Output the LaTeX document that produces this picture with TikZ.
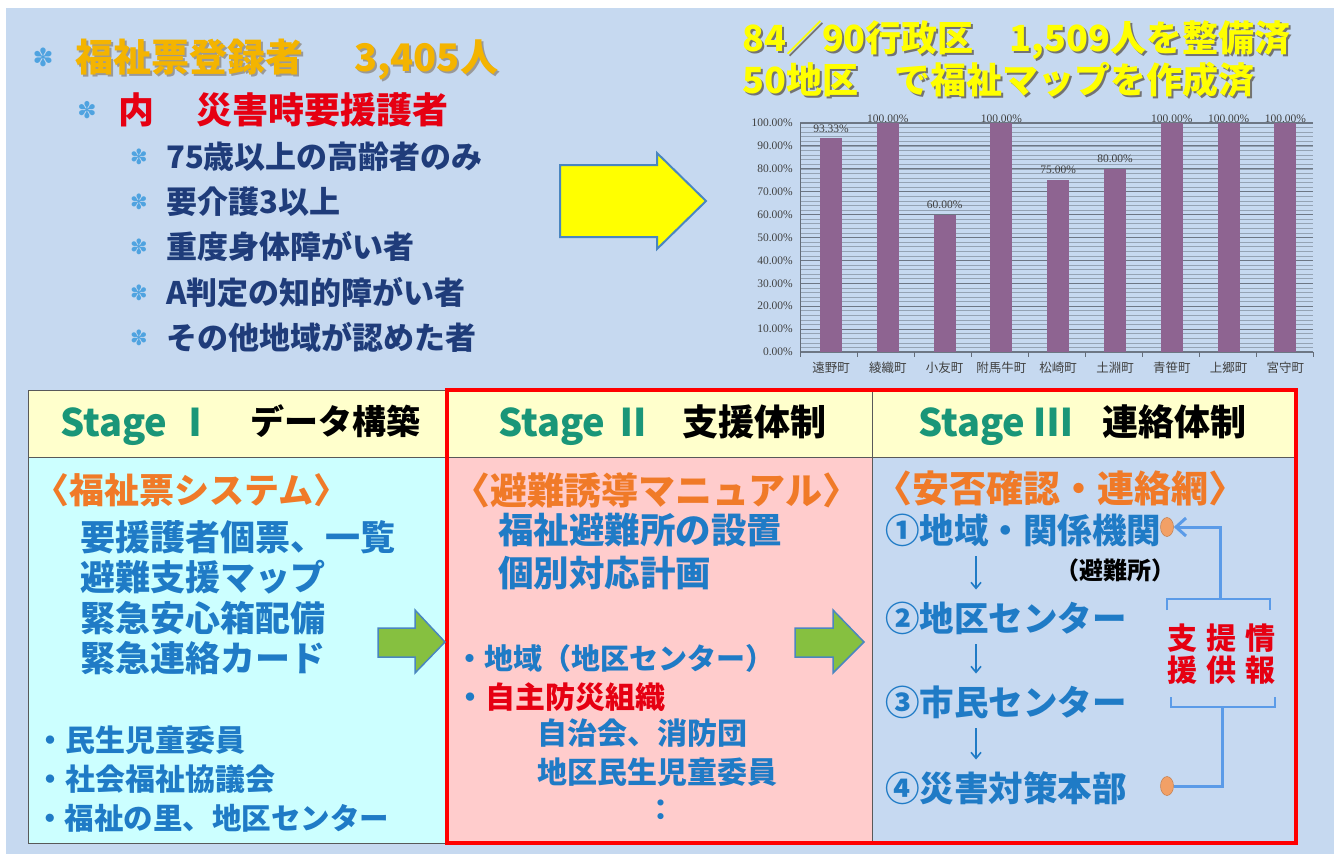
\documentclass[tikz,border=0pt]{standalone}
\usepackage{fontspec}
\usetikzlibrary{arrows.meta,shapes.geometric,calc}
\newfontfamily\jp{Noto Sans CJK JP}
\newfontfamily\symf{DejaVu Sans}
\newfontfamily\chartnum{Liberation Serif}
\definecolor{bg}{HTML}{C6D9F0}
\definecolor{gold}{HTML}{F4B400}
\definecolor{navy}{HTML}{1F3C7A}
\definecolor{jred}{HTML}{E60012}
\definecolor{jyellow}{HTML}{FFFF00}
\definecolor{bulblue}{HTML}{4FA3E0}
\definecolor{teal}{HTML}{1A9678}
\definecolor{jorange}{HTML}{F07A28}
\definecolor{jblue}{HTML}{1F7BC6}
\definecolor{hdr}{HTML}{FFFFCC}
\definecolor{cone}{HTML}{CCFFFF}
\definecolor{ctwo}{HTML}{FFCCCC}
\definecolor{cthree}{HTML}{C6D9F1}
\definecolor{barc}{HTML}{8E6491}
\definecolor{charttxt}{HTML}{404040}
\definecolor{linkblue}{HTML}{5B9BE8}
\definecolor{dotc}{HTML}{F2A066}
\definecolor{garrow}{HTML}{86C040}
\definecolor{arrowedge}{HTML}{4A86C0}
\begin{document}
\begin{tikzpicture}[x=1pt,y=-1pt,
  jt/.style={inner sep=0pt, anchor=west, font=\jp\bfseries\fontsize{#1}{#1}\selectfont, text height={0.88*#1pt}, text depth={0.12*#1pt}},
  jc/.style={inner sep=0pt, anchor=center, font=\jp\bfseries\fontsize{#1}{#1}\selectfont, text height={0.88*#1pt}, text depth={0.12*#1pt}},
  bul/.style={inner sep=0pt, anchor=center, text=bulblue, font=\symf\fontsize{#1}{#1}\selectfont},
  ylab/.style={inner sep=0pt, anchor=east, text=charttxt, font=\chartnum\fontsize{11.5}{12}\selectfont},
  vlab/.style={inner sep=0pt, anchor=center, text=charttxt, font=\chartnum\fontsize{11.5}{12}\selectfont},
  clab/.style={inner sep=0pt, anchor=center, text=charttxt, font=\jp\fontsize{12.5}{13}\selectfont},
  blockarrow/.style={fill=garrow, draw=arrowedge, line width=1.5pt, line join=miter},
  gridl/.style={draw=black!65, line width=1pt},
  link/.style={draw=linkblue, line width=3pt},
  brk/.style={draw=linkblue, line width=2pt},
  darr/.style={draw=jblue, line width=1.6pt, -{Straight Barb[length=6pt,width=10pt]}, shorten <=9pt, shorten >=11pt},
  dotn/.style={ellipse, fill=dotc, draw=dotc!80!black, line width=0.5pt, minimum width=13pt, minimum height=19pt, inner sep=0pt}
]
\useasboundingbox (0,0) rectangle (1334,854);
\fill[white] (0,0) rectangle (1334,854);
\fill[bg] (6,8) rectangle (1334,854);

% ---------- top left list ----------
\node[bul=25] (b1) at (43,57) {✽};
\node[jt=38, text=black!40] (t1s) at (77,59) {福祉票登録者};
\node[jt=38, text=gold] (t1) at (75,57) {福祉票登録者};
\node[jt=38, text=black!40] (t1ns) at (356,59) {3,405人};
\node[jt=38, text=gold] (t1n) at (354,57) {3,405人};
\node[bul=23] (b2) at (87,110) {✽};
\node[jt=36, text=jred] (t2a) at (118,110) {内};
\node[jt=36, text=jred] (t2b) at (196,110) {災害時要援護者};
\foreach \yy/\tx [count=\i] in {157/75歳以上の高齢者のみ,202/要介護3以上,247/重度身体障がい者,293/A判定の知的障がい者,338/その他地域が認めた者}{
  \node[bul=21] (bi\i) at (139,\yy) {✽};
  \node[jt=31, text=navy] (it\i) at (166,\yy) {\tx};
}

% ---------- yellow arrow ----------
\draw[fill=jyellow, draw=arrowedge, line width=2pt, line join=miter]
  (560,165) -- (657,165) -- (657,153) -- (706,201) -- (657,249) -- (657,237) -- (560,237) -- cycle;

% ---------- top right headline ----------
\node[jt=36, text=black!55] (r1s) at (744,40) {84／90行政区　1,509人を整備済};
\node[jt=36, text=jyellow] (r1) at (742,38) {84／90行政区　1,509人を整備済};
\node[jt=36, text=black!55] (r2s) at (744,82) {50地区　で福祉マップを作成済};
\node[jt=36, text=jyellow] (r2) at (742,80) {50地区　で福祉マップを作成済};

% ---------- chart ----------
\foreach \v in {0,2,...,100}{
  \draw[draw=black!25!bg, line width=0.6pt] (800,{352-2.29*\v}) -- (1313,{352-2.29*\v});
}
\foreach \v in {0,10,...,100}{
  \draw[draw=black!45!bg, line width=1.1pt] (800,{352-2.29*\v}) -- (1313,{352-2.29*\v});
  \node[ylab] (yl\v) at (793,{352-2.29*\v}) {\v.00\%};
}
\draw[draw=black!50!bg, line width=1pt] (800,123) -- (800,352);
\foreach \k in {0,...,9}{
  \draw[draw=black!50!bg, line width=0.8pt] ({800+57*\k},352) -- ({800+57*\k},357);
}
\foreach \v/\l [count=\i from 0] in {93.33/93.33,100/100.00,60/60.00,100/100.00,75/75.00,80/80.00,100/100.00,100/100.00,100/100.00}{
  \fill[barc] ({831+56.8*\i-11},352) rectangle ({831+56.8*\i+11},{352-2.29*\v});
  \node[vlab] (vl\i) at ({831+56.8*\i},{max(352-2.29*\v-10,119)}) {\l\%};
}
\foreach \n [count=\i from 0] in {遠野町,綾織町,小友町,附馬牛町,松崎町,土淵町,青笹町,上郷町,宮守町}{
  \node[clab] (cl\i) at ({831+56.8*\i},368) {\n};
}

% ---------- table ----------
\fill[hdr] (28,390) rectangle (1296,457);
\fill[cone] (28,457) rectangle (447,843);
\fill[ctwo] (447,457) rectangle (872,843);
\fill[cthree] (872,457) rectangle (1296,843);
\draw[gridl] (28,390) rectangle (1296,843);
\draw[gridl] (28,457) -- (1296,457);
\draw[gridl] (447,390) -- (447,843);
\draw[gridl] (872,390) -- (872,843);
\draw[draw=red, line width=4pt] (447,390) rectangle (1296,843);

% headers
\node[jt=38, text=teal] (s1) at (60,422) {Stage Ⅰ};
\node[jt=34, text=black] (h1) at (250,422) {データ構築};
\node[jt=38, text=teal] (s2) at (498,422) {Stage Ⅱ};
\node[jt=36, text=black] (h2) at (682,422) {支援体制};
\node[jt=38, text=teal] (s3) at (918,422) {Stage Ⅲ};
\node[jt=36, text=black] (h3) at (1102,422) {連絡体制};

% stage I body
\node[jt=35, text=jorange] (o1) at (34,490) {〈福祉票システム〉};
\node[jt=35, text=jblue] (a1) at (80,537) {要援護者個票、一覧};
\node[jt=35, text=jblue] (a2) at (80,577) {避難支援マップ};
\node[jt=35, text=jblue] (a3) at (80,618) {緊急安心箱配備};
\node[jt=35, text=jblue] (a4) at (80,658) {緊急連絡カード};
\node[jt=30, text=jblue] (m1) at (35,740) {・民生児童委員};
\node[jt=30, text=jblue] (m2) at (35,779) {・社会福祉協議会};
\node[jt=29.5, text=jblue] (m3) at (35,818) {・福祉の里、地区センター};
\draw[blockarrow] (378,628) -- (415,628) -- (415,610) -- (445,642) -- (415,673) -- (415,657) -- (378,657) -- cycle;

% stage II body
\node[jt=37, text=jorange] (o2) at (453,490) {〈避難誘導マニュアル〉};
\node[jt=35.5, text=jblue] (p1) at (498,530) {福祉避難所の設置};
\node[jt=35.5, text=jblue] (p2) at (498,573) {個別対応計画};
\node[jt=29, text=jblue] (q1) at (455,658) {・地域（地区センター）};
\node[jt=30, text=jblue] (q2dot) at (455,697) {・};
\node[jt=30, text=jred] (q2) at (485,697) {自主防災組織};
\node[jt=30, text=jblue] (q3) at (537,733) {自治会、消防団};
\node[jt=30, text=jblue] (q4) at (537,772) {地区民生児童委員};
\node[jc=29, text=jblue] (q5) at (661,809) {：};
\draw[blockarrow] (795,628) -- (833,628) -- (833,610) -- (864,642) -- (833,673) -- (833,657) -- (795,657) -- cycle;

% stage III body
\node[jt=37, text=jorange] (o3) at (875,488) {〈安否確認・連絡網〉};
\node[jt=34.5, text=jblue] (c1) at (885,530) {①地域・関係機関};
\node[jt=24, text=black] (par) at (1055,570) {（避難所）};
\node[jt=34.5, text=jblue] (c2) at (885,618) {②地区センター};
\node[jt=34.5, text=jblue] (c3) at (885,702) {③市民センター};
\node[jt=34.5, text=jblue] (c4) at (885,788) {④災害対策本部};
\draw[darr] ([xshift=91pt]c1.south west) -- ([xshift=91pt]c2.north west);
\draw[darr] ([xshift=91pt]c2.south west) -- ([xshift=91pt]c3.north west);
\draw[darr] ([xshift=91pt]c3.south west) -- ([xshift=91pt]c4.north west);
\node[dotn] (d1) at (1167,527) {};
\node[dotn] (d4) at (1167,786) {};
\coordinate (brt) at (1220,599);
\coordinate (brb) at (1222,707);
\draw[brk] (1167,610) -- (1167,599) -- (1270,599) -- (1270,610);
\draw[brk] (1171,697) -- (1171,707) -- (1275,707) -- (1275,697);
\draw[link, -{Straight Barb[length=10pt,width=18pt]}] (brt) |- (d1.east);
\draw[link] (d4.east) -| (brb);
\node[inner sep=0pt, align=center, text=jred, font=\jp\bfseries\fontsize{30}{32}\selectfont] (supp) at (1221,654) {支\hspace{9pt}提\hspace{9pt}情\\援\hspace{9pt}供\hspace{9pt}報};
\end{tikzpicture}
\end{document}
